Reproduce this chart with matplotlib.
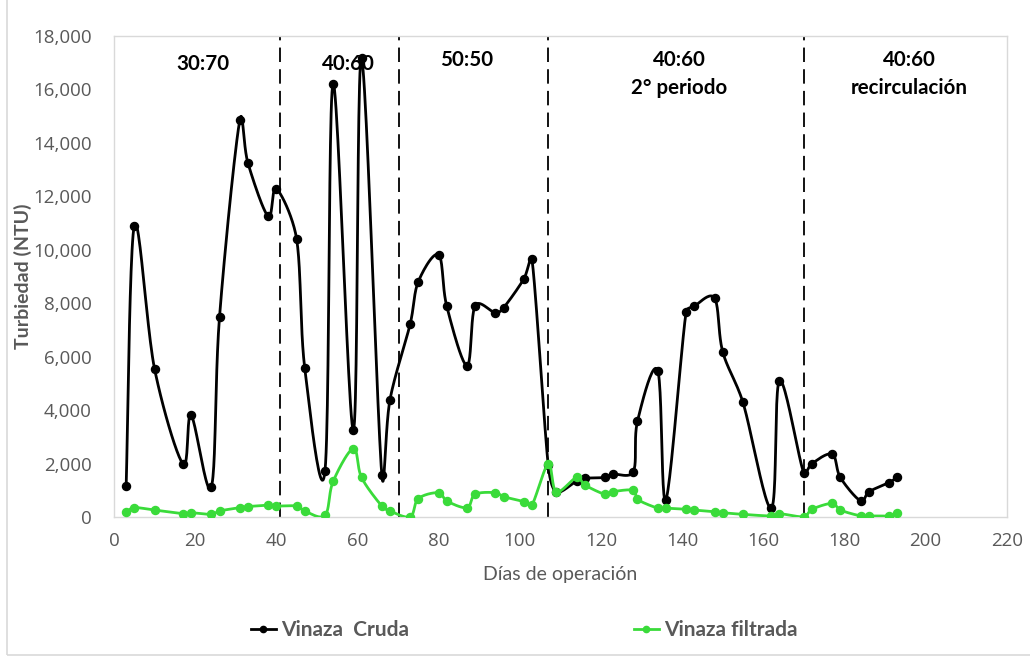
"""
Turbiedad de la vinaza cruda y filtrada por días de operación
"""

import numpy as np
import matplotlib.pyplot as plt
from matplotlib.lines import Line2D
from matplotlib.patches import Rectangle
from matplotlib.ticker import FuncFormatter

# Datos
dias = [3, 5, 10, 17, 19, 24, 26, 31, 33, 38, 40, 45, 47, 52, 54, 59, 61, 66, 68,
        73, 75, 80, 82, 87, 89, 94, 96, 101, 103, 107, 109, 114, 116, 121, 123,
        128, 129, 134, 136, 141, 143, 148, 150, 155, 162, 164, 170, 172, 177, 179,
        184, 186, 191, 193]

vinaza_cruda = [1160, 10900, 5540, 1980, 3810, 1130, 7480, 14850, 13250, 11250,
                12290, 10410, 5580, 1730, 16220, 3250, 17160, 1580, 4380,
                7230, 8810, 9810, 7890, 5660, 7910, 7640, 7830, 8910, 9660,
                1950, 940, 1350, 1450, 1480, 1600, 1700, 3580, 5480, 640,
                7690, 7890, 8190, 6190, 4290, 330, 5100, 1640, 2000, 2350,
                1480, 600, 940, 1290, 1480]

vinaza_filtrada = [190, 350, 260, 125, 160, 100, 225, 350, 390, 440, 410, 410,
                   225, 60, 1330, 2560, 1480, 410, 225, 10, 690, 910, 600, 350,
                   850, 910, 760, 580, 450, 1980, 940, 1480, 1200, 850, 950,
                   1000, 660, 330, 330, 290, 260, 200, 160, 100, 40, 125, 10,
                   290, 510, 260, 40, 40, 40, 160]

# Límites entre etapas y etiquetas
limites = [41, 70.3, 107, 170]
etapas = ["30:70", "40:60", "50:50", "40:60\n2° periodo", "40:60\nrecirculación"]
etapas_x = [22, 57.7, 87, 139.3, 196]
etapas_y = [17330, 17330, 17480, 17480, 17480]

gris = '#595959'
verde = '#3ADB3A'
borde = '#d9d9d9'


def suavizar(x, y, n=24, tope=0.4):
    # curva suavizada tipo Excel (Catmull-Rom), con control limitado por tramo
    sx, sy = 890 / 220, 480 / 18000
    p = np.column_stack([np.asarray(x, float) * sx, np.asarray(y, float) * sy])
    p = np.vstack([p[0], p, p[-1]])
    t = np.linspace(0, 1, n)[:, None]
    tramos = []
    for i in range(1, len(p) - 2):
        p0, p1, p2, p3 = p[i - 1], p[i], p[i + 1], p[i + 2]
        d = np.linalg.norm(p2 - p1)
        v1 = (p2 - p0) / 6
        v2 = (p3 - p1) / 6
        n1, n2 = np.linalg.norm(v1), np.linalg.norm(v2)
        if n1 > tope * d:
            v1 = v1 * tope * d / n1
        if n2 > tope * d:
            v2 = v2 * tope * d / n2
        c1 = p1 + v1
        c2 = p2 - v2
        b = ((1 - t) ** 3 * p1 + 3 * (1 - t) ** 2 * t * c1
             + 3 * (1 - t) * t ** 2 * c2 + t ** 3 * p2)
        tramos.append(b)
    c = np.vstack(tramos)
    return c[:, 0] / sx, c[:, 1] / sy


fig = plt.figure(figsize=(10.3, 6.56), dpi=100)
ax = fig.add_axes([114 / 1030, 1 - 517 / 656, 892.7 / 1030, 481 / 656])

# borde exterior del gráfico
fig.patches.append(Rectangle((7 / 1030, 1 / 656), 1.2, 1.2, transform=fig.transFigure,
                             fill=False, edgecolor=borde, linewidth=1.2))

for xl in limites:
    ax.axvline(xl, color='black', linestyle=(0, (8, 4)), linewidth=1.3, zorder=1)

xs, ys = suavizar(dias, vinaza_cruda)
ax.plot(xs, ys, color='black', linewidth=2, zorder=3)
ax.plot(dias, vinaza_cruda, 'o', color='black', markersize=5.8, zorder=4)

xs, ys = suavizar(dias, vinaza_filtrada)
ax.plot(xs, ys, color=verde, linewidth=2, zorder=5)
ax.plot(dias, vinaza_filtrada, 'o', color=verde, markersize=5.8, zorder=6)

for txt, xe, ye in zip(etapas, etapas_x, etapas_y):
    ax.text(xe, ye, txt, ha='center', va='top', fontsize=14.8, fontweight='bold',
            family='Lato', color='black', linespacing=1.5, zorder=7)

ax.set_xlim(0, 220)
ax.set_ylim(0, 18000)
ax.set_xticks(np.arange(0, 221, 20))
ax.set_yticks(np.arange(0, 18001, 2000))
ax.yaxis.set_major_formatter(FuncFormatter(lambda v, p: f'{v:,.0f}'))
ax.tick_params(length=0, labelsize=13.5, labelcolor=gris)
ax.tick_params(axis='y', pad=16)
ax.tick_params(axis='x', pad=11)
for lab in ax.get_xticklabels() + ax.get_yticklabels():
    lab.set_family('Open Sans')
for s in ax.spines.values():
    s.set_color(borde)
    s.set_linewidth(1)

ax.set_xlabel('Días de operación', fontsize=14, color=gris, family='Lato', labelpad=11)
ax.set_ylabel('Turbiedad (NTU)', fontsize=14, color=gris, family='Lato',
              fontweight='bold')
ax.yaxis.set_label_coords(-82 / 892.7, 0.5)

handles = [Line2D([], [], color='black', marker='o', markersize=4.5, linewidth=2),
           Line2D([], [], color=verde, marker='o', markersize=4.5, linewidth=2)]
leg = fig.legend(handles, ['Vinaza  Cruda', 'Vinaza filtrada'], loc='center',
                 bbox_to_anchor=(524 / 1030, 1 - 630 / 656), ncol=2, frameon=False,
                 handlelength=1.2, handletextpad=0.25, columnspacing=10.8,
                 prop={'family': 'Lato', 'weight': 'bold', 'size': 15})
for t in leg.get_texts():
    t.set_color(gris)

plt.savefig('out.png', dpi=100)
